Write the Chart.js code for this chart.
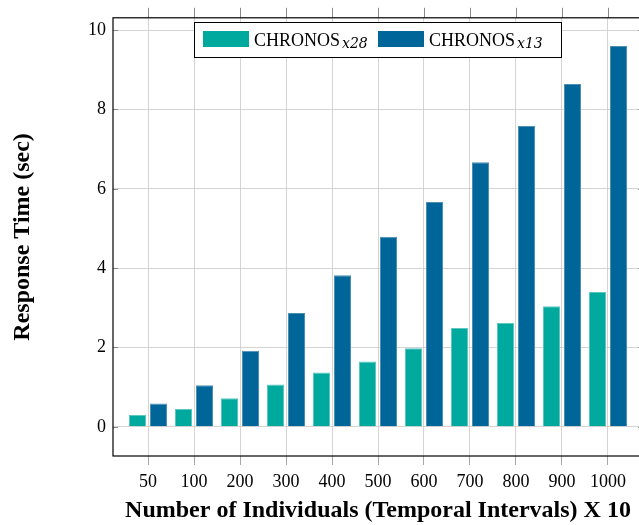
<!DOCTYPE html>
<html>
<head>
<meta charset="utf-8">
<script src="https://cdn.jsdelivr.net/npm/chart.js@4/dist/chart.umd.min.js"></script>
<style>
  html, body { margin: 0; padding: 0; overflow: hidden; background: #fff; }
  #wrap { width: 650px; height: 525px; }
</style>
</head>
<body>
<div id="wrap"><canvas id="c" width="650" height="525"></canvas></div>
<script>
// Number of individuals (temporal intervals) x 10
const categories = ['50', '100', '200', '300', '400', '500', '600', '700', '800', '900', '1000'];
// Response time in seconds
const chronosX28 = [0.30, 0.45, 0.72, 1.07, 1.37, 1.65, 1.98, 2.49, 2.62, 3.04, 3.40];
const chronosX13 = [0.59, 1.05, 1.92, 2.87, 3.82, 4.79, 5.67, 6.67, 7.58, 8.64, 9.60];
const yTicks = [0, 2, 4, 6, 8, 10];

const seriesNames = [
  { main: 'CHRONOS', sub: 'x28' },
  { main: 'CHRONOS', sub: 'x13' }
];

const TEAL = '#00a99d';
const BLUE = '#006699';
const SERIF = "'Liberation Serif', 'DejaVu Serif', serif";

const toPoints = vals => vals.map((v, i) => ({ x: i, y: v }));

// Frame, inner tick marks and outer top tick marks
const framePlugin = {
  id: 'frame',
  afterDraw(chart) {
    const { ctx, chartArea: { left, right, top, bottom }, scales: { x, y } } = chart;
    ctx.save();
    ctx.lineWidth = 1;
    ctx.strokeStyle = '#8a8a8a';
    ctx.beginPath();
    y.ticks.forEach(t => {
      const py = Math.round(y.getPixelForValue(t.value)) + 0.5;
      ctx.moveTo(left, py); ctx.lineTo(left + 5, py);
      ctx.moveTo(right - 5, py); ctx.lineTo(right, py);
    });
    x.ticks.forEach(t => {
      const px = Math.round(x.getPixelForValue(t.value)) + 0.5;
      ctx.moveTo(px, top - 10); ctx.lineTo(px, top);
    });
    ctx.stroke();
    ctx.strokeStyle = '#000';
    ctx.lineWidth = 1.2;
    ctx.strokeRect(left, top, right - left, bottom - top);
    ctx.restore();
  }
};

// Boxed legend with subscripted series names
const legendPlugin = {
  id: 'subLegend',
  afterDraw(chart) {
    const { ctx } = chart;
    const boxX = 194.5, boxY = 22.5, boxW = 367, boxH = 35;
    ctx.save();
    ctx.fillStyle = '#fff';
    ctx.fillRect(boxX, boxY, boxW, boxH);
    ctx.strokeStyle = '#000';
    ctx.lineWidth = 1;
    ctx.strokeRect(boxX, boxY, boxW, boxH);
    const items = [
      { x: 203, color: chart.data.datasets[0].backgroundColor, name: seriesNames[0] },
      { x: 378, color: chart.data.datasets[1].backgroundColor, name: seriesNames[1] }
    ];
    items.forEach(it => {
      ctx.fillStyle = it.color;
      ctx.fillRect(it.x, 31, 46, 16);
      ctx.fillStyle = '#000';
      ctx.textBaseline = 'alphabetic';
      ctx.textAlign = 'left';
      ctx.font = `18px ${SERIF}`;
      const tx = it.x + 51;
      ctx.fillText(it.name.main, tx, 46);
      const w = ctx.measureText(it.name.main).width;
      ctx.font = "italic 14px 'DejaVu Serif', serif";
      ctx.fillText(it.name.sub, tx + w + 2, 48);
    });
    ctx.restore();
  }
};

new Chart(document.getElementById('c'), {
  type: 'bar',
  data: {
    datasets: [
      {
        label: 'CHRONOS x28',
        data: toPoints(chronosX28),
        backgroundColor: TEAL,
        borderColor: '#5cc7bf',
        borderWidth: 1
      },
      {
        label: 'CHRONOS x13',
        data: toPoints(chronosX13),
        backgroundColor: BLUE,
        borderColor: '#4c8fb3',
        borderWidth: 1
      }
    ]
  },
  options: {
    responsive: false,
    animation: false,
    layout: { padding: { top: 16, right: 7, left: 0, bottom: 0 } },
    categoryPercentage: 0.913,
    barPercentage: 0.81,
    plugins: {
      legend: { display: false },
      tooltip: { enabled: false }
    },
    scales: {
      x: {
        type: 'linear',
        offset: false,
        z: 1,
        min: -0.761,
        max: 10.761,
        afterBuildTicks: s => { s.ticks = categories.map((c, i) => ({ value: i })); },
        afterFit: s => { s.height = 69; },
        grid: {
          offset: false,
          color: 'rgba(205,205,205,0.85)',
          tickColor: '#a8a8a8',
          tickLength: 9,
          lineWidth: 1
        },
        border: { display: false },
        ticks: {
          autoSkip: false,
          maxRotation: 0,
          padding: 6,
          color: '#000',
          font: { family: SERIF, size: 18 },
          callback: v => categories[v]
        },
        title: {
          display: true,
          text: 'Number of Individuals (Temporal Intervals) X 10',
          color: '#000',
          font: { family: SERIF, size: 24, weight: 'bold' },
          padding: { top: 0, bottom: 0 }
        }
      },
      y: {
        type: 'linear',
        z: 1,
        min: -0.735,
        max: 10.31,
        afterBuildTicks: s => { s.ticks = yTicks.map(v => ({ value: v })); },
        afterFit: s => { s.width = 113; },
        grid: {
          color: 'rgba(205,205,205,0.85)',
          drawTicks: false,
          lineWidth: 1
        },
        border: { display: false },
        ticks: {
          padding: 7,
          color: '#000',
          font: { family: SERIF, size: 18 }
        },
        title: {
          display: true,
          text: 'Response Time (sec)',
          color: '#000',
          font: { family: SERIF, size: 24, weight: 'bold' },
          padding: { top: 8, bottom: 0 }
        }
      }
    }
  },
  plugins: [framePlugin, legendPlugin]
});
</script>
</body>
</html>
